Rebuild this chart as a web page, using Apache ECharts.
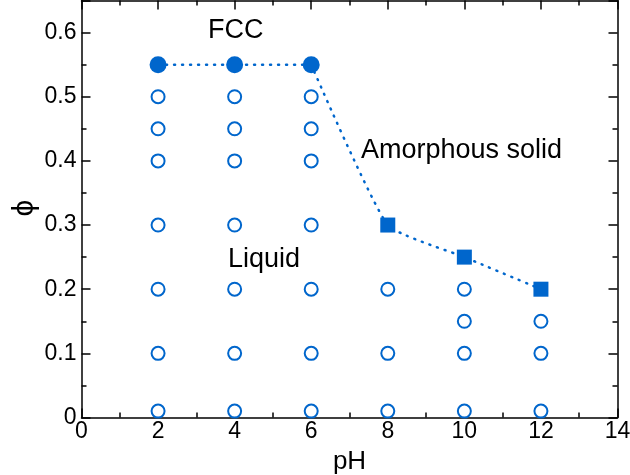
<!DOCTYPE html>
<html>
<head>
<meta charset="utf-8">
<script src="https://cdn.jsdelivr.net/npm/echarts@6/dist/echarts.min.js"></script>
<style>
  html, body { margin: 0; padding: 0; background: #fff; }
  #chart { width: 630px; height: 475px; }
</style>
</head>
<body>
<div id="chart"></div>
<script>
// open circles: liquid states
const liquidPts = [
    [2, 0.01], [2, 0.1], [2, 0.2], [2, 0.3], [2, 0.4], [2, 0.45], [2, 0.5],
    [4, 0.01], [4, 0.1], [4, 0.2], [4, 0.3], [4, 0.4], [4, 0.45], [4, 0.5],
    [6, 0.01], [6, 0.1], [6, 0.2], [6, 0.3], [6, 0.4], [6, 0.45], [6, 0.5],
    [8, 0.01], [8, 0.1], [8, 0.2],
    [10, 0.01], [10, 0.1], [10, 0.15], [10, 0.2],
    [12, 0.01], [12, 0.1], [12, 0.15]
];
// filled circles: FCC
const fccPts = [[2, 0.55], [4, 0.55], [6, 0.55]];
// filled squares: amorphous solid
const amorphPts = [[8, 0.3], [10, 0.25], [12, 0.2]];

const xTicks = [0, 2, 4, 6, 8, 10, 12, 14];
const yTicks = [0, 0.1, 0.2, 0.3, 0.4, 0.5, 0.6];

const blue = '#0066cc';
const font = 'Liberation Sans, Arial, sans-serif';

const dom = document.getElementById('chart');
const myChart = echarts.init(dom);

function axisBase(show) {
    return {
        axisLine: { show: true, onZero: false, lineStyle: { color: '#000', width: 1.5 } },
        axisTick: { show: true, inside: true, length: 9, lineStyle: { color: '#000', width: 1.5 } },
        minorTick: { show: true, splitNumber: 2, length: 5, lineStyle: { color: '#000', width: 1.5 } },
        splitLine: { show: false },
        axisLabel: { show: show }
    };
}

const option = {
    animation: false,
    grid: { left: 81.5, right: 12.5, top: 0.5, bottom: 57.5, outerBoundsMode: 'none', containLabel: false },
    xAxis: [
        Object.assign(axisBase(true), {
            type: 'value', min: 0, max: 14, interval: 2,
            name: 'pH', nameLocation: 'middle', nameGap: 26,
            nameTextStyle: { color: '#000', fontSize: 26, fontFamily: font, verticalAlign: 'top' },
            axisLabel: {
                color: '#000', fontSize: 23, fontFamily: font, margin: 3,
                formatter: v => xTicks.includes(v) ? String(v) : ''
            }
        }),
        Object.assign(axisBase(false), {
            type: 'value', min: 0, max: 14, interval: 2, position: 'top'
        })
    ],
    yAxis: [
        Object.assign(axisBase(true), {
            type: 'value', min: 0, max: 0.65, interval: 0.1,
            axisLabel: {
                color: '#000', fontSize: 23, fontFamily: font, margin: 5,
                showMaxLabel: false,
                formatter: v => {
                    const t = yTicks.find(k => Math.abs(k - v) < 1e-6);
                    return t === undefined ? '' : String(t);
                }
            }
        }),
        Object.assign(axisBase(false), {
            type: 'value', min: 0, max: 0.65, interval: 0.1, position: 'right'
        })
    ],
    series: [
        {
            type: 'line', data: fccPts, symbol: 'none',
            lineStyle: { color: blue, width: 2.5, type: [1, 7], cap: 'round' },
            z: 1
        },
        {
            type: 'line', data: [fccPts[2]].concat(amorphPts), symbol: 'none', smooth: 0.15,
            lineStyle: { color: blue, width: 2.5, type: [1, 7], cap: 'round' },
            z: 1
        },
        {
            type: 'scatter', data: liquidPts, symbol: 'circle', symbolSize: 13,
            itemStyle: { color: '#fff', borderColor: blue, borderWidth: 2, opacity: 1 },
            z: 2
        },
        {
            type: 'scatter', data: fccPts, symbol: 'circle', symbolSize: 17,
            itemStyle: { color: blue, opacity: 1 },
            z: 3
        },
        {
            type: 'scatter', data: amorphPts, symbol: 'rect', symbolSize: 15,
            itemStyle: { color: blue, opacity: 1 },
            z: 3
        }
    ],
    graphic: [
        { type: 'text', x: 25, y: 208, rotation: Math.PI / 2,
          style: { text: 'ϕ', fontSize: 30, fontFamily: font, fill: '#000', align: 'center', verticalAlign: 'middle' } },
        { type: 'text', left: 208, top: 17, style: { text: 'FCC', fontSize: 27, fontFamily: font, fill: '#000' } },
        { type: 'text', left: 228, top: 246, style: { text: 'Liquid', fontSize: 27, fontFamily: font, fill: '#000' } },
        { type: 'text', left: 361, top: 137, style: { text: 'Amorphous solid', fontSize: 27, fontFamily: font, fill: '#000' } }
    ]
};

myChart.setOption(option);
</script>
</body>
</html>
